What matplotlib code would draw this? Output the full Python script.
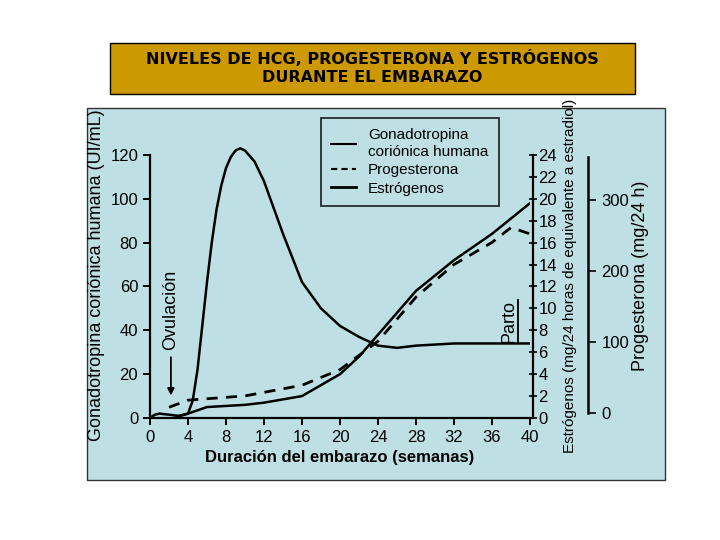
import matplotlib
matplotlib.use('Agg')
import matplotlib.pyplot as plt
from matplotlib.patches import Rectangle
from matplotlib.lines import Line2D

plt.rcParams['font.family'] = ['Liberation Sans', 'DejaVu Sans']

# data
hcg_weeks = [0, 0.5, 1, 2, 3, 4, 4.5, 5, 5.5, 6, 6.5, 7, 7.5, 8, 8.5, 9, 9.5, 10, 11, 12, 13, 14,
             16, 18, 20, 22, 24, 26, 28, 32, 36, 40]
hcg_vals = [0, 1.5, 2, 1.5, 1, 2, 8, 22, 42, 62, 80, 95, 106, 114, 119, 122, 123, 122, 117, 108,
            96, 84, 62, 50, 42, 37, 33, 32, 33, 34, 34, 34]

estr_weeks = [2.5, 4, 6, 8, 10, 12, 16, 20, 22, 24, 26, 28, 30, 32, 36, 40]
estr_vals = [0, 0.4, 1.0, 1.1, 1.2, 1.4, 2.0, 4.0, 5.6, 7.6, 9.6, 11.6, 13.0, 14.4, 16.8, 19.6]

prog_weeks = [2, 4, 10, 16, 20, 24, 28, 32, 36, 38, 40]
prog_vals = [8, 18, 24, 39, 61, 101, 163, 209, 240, 261, 252]

fig = plt.figure(figsize=(7.2, 5.4), dpi=100)
W, H = 720, 540

def fx(px):
    return px / W

def fy(py):
    return 1 - py / H

# background panel and title box
fig.patches.append(Rectangle((fx(87), fy(480)), fx(665) - fx(87), fy(108) - fy(480),
                             transform=fig.transFigure, facecolor='#bee0e4',
                             edgecolor='#333333', lw=1, zorder=-5))
fig.patches.append(Rectangle((fx(110), fy(94)), fx(635) - fx(110), fy(43) - fy(94),
                             transform=fig.transFigure, facecolor='#cc9900',
                             edgecolor='black', lw=1, zorder=-5))
fig.text(fx(372), fy(68), 'NIVELES DE HCG, PROGESTERONA Y ESTRÓGENOS\nDURANTE EL EMBARAZO',
         ha='center', va='center', fontsize=11.5, fontweight='bold',
         family=['DejaVu Sans'], linespacing=1.25)

# main axes: 0..40 weeks between x=150 and 530, hcg 0 at y=418, 130 at y=133
ax = fig.add_axes([fx(150), fy(418), fx(530) - fx(150), fy(133) - fy(418)])
ax.set_facecolor('none')
ax.set_xlim(0, 40)
ax.set_ylim(0, 130)
for s in ['top', 'right']:
    ax.spines[s].set_visible(False)
ax.spines['left'].set_bounds(0, 120)
ax.spines['left'].set_linewidth(1.6)
ax.spines['bottom'].set_linewidth(1.6)
ax.set_xticks(range(0, 41, 4))
ax.set_yticks(range(0, 121, 20))
ax.tick_params(labelsize=12, width=1.4, length=5)
ax.set_xlabel('Duración del embarazo (semanas)', fontsize=12, fontweight='bold')
ax.set_ylabel('Gonadotropina coriónica humana (UI/mL)', fontsize=13, labelpad=4)

ax.plot(hcg_weeks, hcg_vals, color='black', lw=1.8)

# estrogen axis
ax_e = ax.twinx()
ax_e.set_ylim(0, 26)
ax_e.set_facecolor('none')
for s in ['top', 'left', 'bottom']:
    ax_e.spines[s].set_visible(False)
ax_e.spines['right'].set_position(('axes', 1.008))
ax_e.spines['right'].set_bounds(0, 24)
ax_e.spines['right'].set_linewidth(1.6)
ax_e.set_yticks(range(0, 25, 2))
ax_e.tick_params(axis='y', direction='inout', labelsize=12, width=1.2, length=6, pad=1)
ax_e.set_ylabel('Estrógenos (mg/24 horas de equivalente a estradiol)', fontsize=11, labelpad=4)
ax_e.plot(estr_weeks, estr_vals, color='black', lw=1.8)

# progesterone axis
ax_p = ax.twinx()
ax_p.set_ylim(-7.1, 394)
ax_p.set_facecolor('none')
for s in ['top', 'left', 'bottom']:
    ax_p.spines[s].set_visible(False)
ax_p.spines['right'].set_position(('axes', 1.153))
ax_p.spines['right'].set_bounds(0, 360)
ax_p.spines['right'].set_linewidth(1.8)
ax_p.set_yticks([0, 100, 200, 300])
ax_p.tick_params(axis='y', labelsize=12, width=1.2, length=6)
ax_p.set_ylabel('Progesterona (mg/24 h)', fontsize=13, labelpad=2)
ax_p.plot(prog_weeks, prog_vals, color='black', lw=2, ls=(0, (4, 3)))

# annotations
ax.annotate('', xy=(2.2, 9), xytext=(2.2, 29),
            arrowprops=dict(arrowstyle='-|>', color='black', lw=1.3))
ax.text(2.2, 31, 'Ovulación', rotation=90, ha='center', va='bottom', fontsize=13)
ax.plot([38.7, 38.7], [34, 54], color='black', lw=1.3)
ax.text(37.8, 44, 'Parto', rotation=90, ha='center', va='center', fontsize=13)

# legend
handles = [Line2D([], [], color='black', lw=1.5),
           Line2D([], [], color='black', lw=1.5, ls=(0, (3, 2))),
           Line2D([], [], color='black', lw=2)]
leg = fig.legend(handles, ['Gonadotropina\ncoriónica humana', 'Progesterona', 'Estrógenos'],
                 loc='upper left', bbox_to_anchor=(fx(313), fy(110)), fontsize=11,
                 frameon=True, fancybox=False, edgecolor='black', facecolor='#bee0e4',
                 handlelength=1.6, borderpad=0.7, labelspacing=0.3)
leg.get_frame().set_linewidth(1.3)

fig.savefig('out.png', dpi=100)
